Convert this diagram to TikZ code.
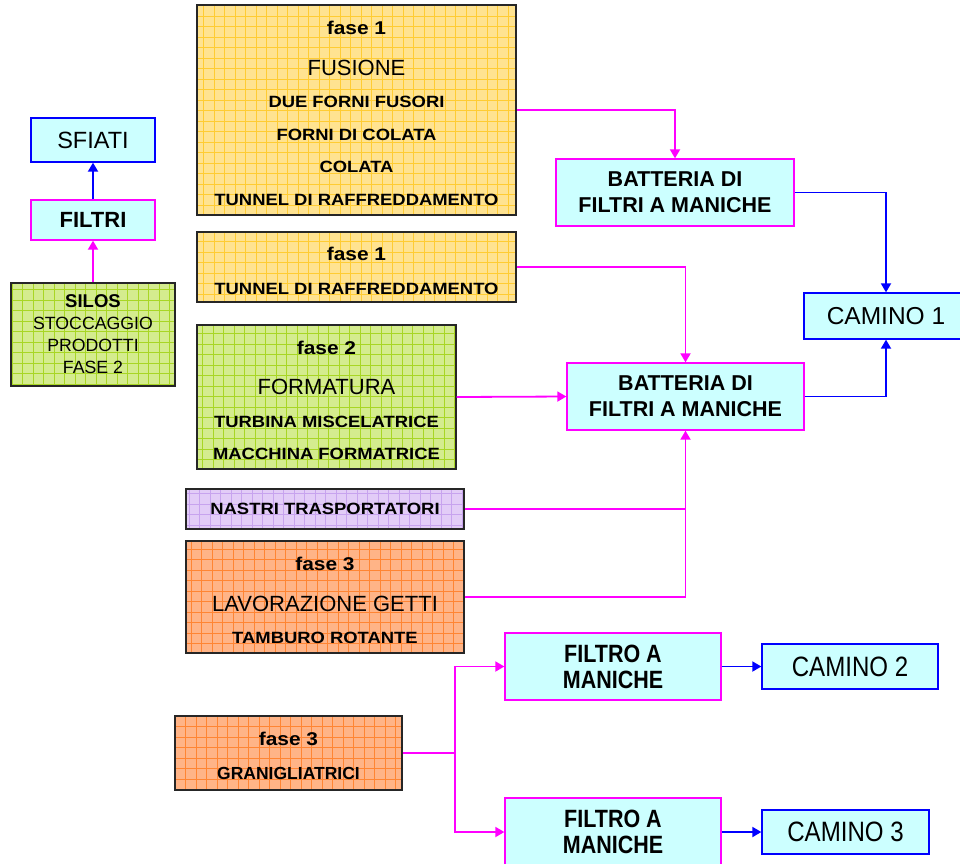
\documentclass[tikz,border=0pt]{standalone}
\usepackage{fontspec}
\setmainfont{Liberation Sans}
\newfontfamily\widesans[FakeStretch=1.13]{Liberation Sans}
\newfontfamily\narrowsans[FakeStretch=0.86]{Liberation Sans}
\usetikzlibrary{arrows.meta}

\definecolor{yellowbg}{HTML}{FFE391}
\definecolor{yellowgrid}{HTML}{FFCC33}
\definecolor{greenbg}{HTML}{D4EC8E}
\definecolor{greengrid}{HTML}{A8D624}
\definecolor{purplebg}{HTML}{E2CCF7}
\definecolor{purplegrid}{HTML}{C7A3EE}
\definecolor{orangebg}{HTML}{FFB487}
\definecolor{orangegrid}{HTML}{FF8533}
\definecolor{cyanbg}{HTML}{CCFFFF}
\definecolor{pinkline}{HTML}{FF00FF}
\definecolor{blueline}{HTML}{0000FF}

% line fonts
\newcommand{\fase}[1]{{\widesans\bfseries\fontsize{18.5}{18}\selectfont #1}}
\newcommand{\titolo}[1]{{\fontsize{22}{22}\selectfont #1}}
\newcommand{\voce}[1]{{\widesans\bfseries\fontsize{16.3}{16}\selectfont #1}}
\newcommand{\linesp}[1]{\fontsize{16}{#1}\selectfont}
\newcommand{\topgap}[1]{\rule{0pt}{#1}}

\tikzset{
  fasebox/.style={draw=black!85, line width=1.3pt, align=center, inner sep=0pt,
    fill=#1bg, path picture={\draw[#1grid, line width=0.9pt]
      (path picture bounding box.south west) grid[step=10.5pt]
      (path picture bounding box.north east);}},
  filterbox/.style={draw=pinkline, line width=1.3pt, fill=cyanbg, align=center, inner sep=0pt},
  stackbox/.style={draw=blueline, line width=1.3pt, fill=cyanbg, align=center, inner sep=0pt},
  mline/.style={pinkline, line width=1.8pt},
  bline/.style={blueline, line width=1.8pt},
}

\begin{document}
\begin{tikzpicture}[x=1pt, y=-1pt, >={Triangle[length=9pt,width=10pt]}]
  \useasboundingbox (0,0) rectangle (960,863);

  % Phases

  \node[fasebox=yellow, minimum width=319, minimum height=210, font=\linesp{32.5}] (fusione) at (356.5,110)
    {\topgap{20pt}\fase{fase 1}\\[8pt]\titolo{FUSIONE}\\\voce{DUE FORNI FUSORI}\\\voce{FORNI DI COLATA}\\\voce{COLATA}\\\voce{TUNNEL DI RAFFREDDAMENTO}};

  \node[fasebox=yellow, minimum width=319, minimum height=70, font=\linesp{33.5}] (tunnel) at (356.5,267)
    {\topgap{21.5pt}\fase{fase 1}\\\voce{TUNNEL DI RAFFREDDAMENTO}};

  \node[fasebox=green, minimum width=259, minimum height=144, font=\linesp{32.5}] (formatura) at (326.5,397)
    {\topgap{20pt}\fase{fase 2}\\[8pt]\titolo{FORMATURA}\\\voce{TURBINA MISCELATRICE}\\\voce{MACCHINA FORMATRICE}};

  \node[fasebox=purple, minimum width=278, minimum height=40] (nastri) at (325,509)
    {\voce{NASTRI TRASPORTATORI}};

  \node[fasebox=orange, minimum width=278, minimum height=112, font=\linesp{32.5}] (getti) at (325,597)
    {\topgap{20.5pt}\fase{fase 3}\\[8pt]\titolo{LAVORAZIONE GETTI}\\\voce{TAMBURO ROTANTE}};

  \node[fasebox=orange, minimum width=227, minimum height=74, font=\linesp{33.5}] (grani) at (288.5,753)
    {\topgap{19pt}\fase{fase 3}\\{\bfseries\fontsize{17.5}{17.5}\selectfont GRANIGLIATRICI}};

  % Silos

  \node[fasebox=green, minimum width=164, minimum height=103, font=\fontsize{17.7}{22}\selectfont] (silos) at (93,334.5)
    {{\bfseries\fontsize{18.5}{18.5}\selectfont SILOS}\\STOCCAGGIO\\PRODOTTI\\FASE 2};
  \node[filterbox, minimum width=124, minimum height=40, font=\bfseries\fontsize{22}{22}\selectfont] (filtri) at (93,220) {FILTRI};
  \node[stackbox, minimum width=124, minimum height=44, font=\fontsize{23.5}{23.5}\selectfont] (sfiati) at (93,140) {SFIATI};

  % Filters and stacks

  \node[filterbox, minimum width=238, minimum height=67, font=\bfseries\fontsize{21.5}{26}\selectfont] (batt1) at (675,192.5)
    {BATTERIA DI\\FILTRI A MANICHE};
  \node[filterbox, minimum width=237, minimum height=67, font=\bfseries\fontsize{21.5}{26}\selectfont] (batt2) at (685.5,396.5)
    {BATTERIA DI\\FILTRI A MANICHE};
  \node[stackbox, minimum width=164, minimum height=46, font=\fontsize{24.5}{24.5}\selectfont] (camino1) at (886,316)
    {CAMINO 1};

  \node[filterbox, minimum width=216, minimum height=67, font=\narrowsans\bfseries\fontsize{25}{26}\selectfont] (filtro1) at (613,666.5)
    {FILTRO A\\MANICHE};
  \node[filterbox, minimum width=216, minimum height=68, font=\narrowsans\bfseries\fontsize{25}{26}\selectfont] (filtro2) at (613,832)
    {FILTRO A\\MANICHE};
  \node[stackbox, minimum width=176, minimum height=45, font=\narrowsans\fontsize{28}{28}\selectfont] (camino2) at (850,666.5)
    {CAMINO 2};
  \node[stackbox, minimum width=167, minimum height=44, font=\narrowsans\fontsize{28}{28}\selectfont] (camino3) at (845.5,832)
    {CAMINO 3};

  % Connectors

  \draw[mline, ->] (silos.north) -- (filtri.south);
  \draw[bline, ->] (filtri.north) -- (sfiati.south);

  \draw[mline, ->] (fusione.east) -| (batt1.north);
  \draw[mline, ->] (tunnel.east) -| (batt2.north);
  \draw[mline, ->] (formatura.east) -- (batt2.west);
  \draw[mline] (nastri.east) -| (batt2.south);
  \draw[mline, ->] (getti.east) -| (batt2.south);

  \draw[bline, ->] (batt1.east) -| (camino1.north);
  \draw[bline, ->] (batt2.east) -| (camino1.south);

  \coordinate (split) at (455,753);
  \draw[mline] (grani.east) -- (split);
  \draw[mline, ->] (split) |- (filtro1.west);
  \draw[mline, ->] (split) |- (filtro2.west);

  \draw[bline, ->] (filtro1.east) -- (camino2.west);
  \draw[bline, ->] (filtro2.east) -- (camino3.west);
\end{tikzpicture}
\end{document}
